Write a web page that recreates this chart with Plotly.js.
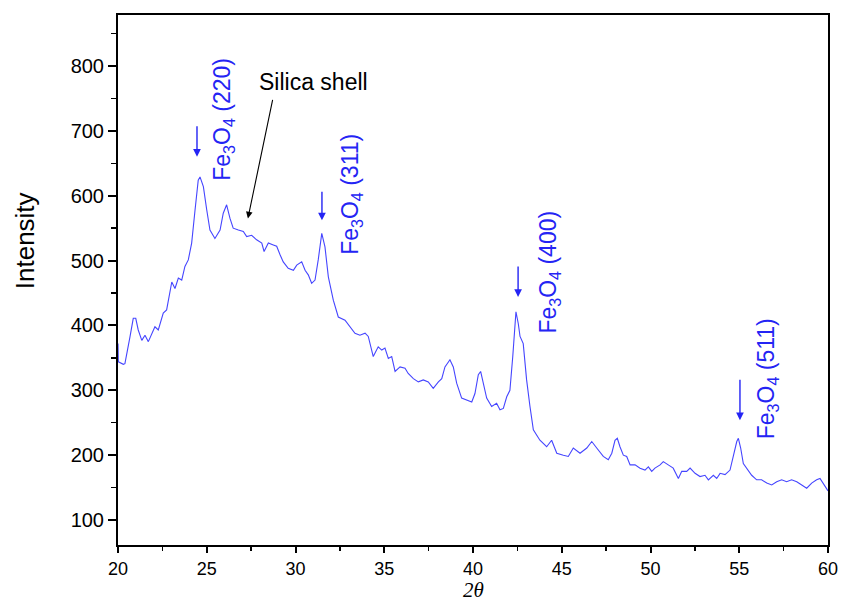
<!DOCTYPE html>
<html>
<head>
<meta charset="utf-8">
<script src="https://cdn.plot.ly/plotly-3.0.1.min.js"></script>
<style>html,body{margin:0;padding:0;background:#fff;}#chart{width:843px;height:603px;}</style>
</head>
<body>
<div id="chart"></div>
<script>
const twoTheta = [20.0,20.02,20.30,20.39,20.68,20.86,21.00,21.14,21.34,21.52,21.71,21.90,22.08,22.27,22.55,22.74,22.83,23.03,23.21,23.40,23.59,23.77,23.96,24.15,24.34,24.52,24.62,24.81,25.00,25.18,25.46,25.75,25.93,26.12,26.31,26.49,26.78,27.06,
27.25,27.53,27.81,28.10,28.23,28.47,28.75,28.94,29.13,29.31,29.59,29.88,30.07,30.35,30.54,30.72,30.91,31.10,31.28,31.48,31.66,31.85,32.13,32.41,32.79,33.07,33.35,33.63,33.92,34.10,
34.38,34.66,34.86,35.04,35.23,35.42,35.61,35.89,36.17,36.35,36.64,36.92,37.20,37.48,37.76,38.05,38.24,38.42,38.70,38.89,39.08,39.36,39.65,39.93,40.11,40.30,40.43,40.58,40.77,41.05,41.33,41.52,41.71,41.90,42.08,42.24,42.42,42.55,42.65,42.83,43.02,43.21,43.40,43.77,44.15,44.43,44.72,45.09,45.37,45.65,46.03,46.41,46.69,46.97,47.34,47.62,47.82,48.00,48.13,48.28,48.47,48.66,48.85,49.13,49.41,49.69,49.88,50.07,50.25,50.54,50.72,51.00,51.28,51.57,51.76,52.04,52.23,52.51,52.79,53.07,53.26,53.54,53.73,53.92,54.20,54.48,54.66,54.86,54.95,55.08,55.23,55.42,55.70,55.98,56.26,56.55,56.83,57.11,57.39,57.67,57.95,58.24,58.52,58.80,59.08,59.36,59.55,59.71,59.90,60.0];
const intensity = [372,344,340,341,383,411,411,393,377,385,375,388,398,393,419,424,439,467,457,473,470,491,501,527,578,624,629,614,578,547,534,547,573,586,565,550,547,545,
537,539,532,527,514,527,524,522,509,498,488,485,493,498,485,478,465,470,501,542,521,475,439,413,408,398,388,385,388,383,
352,367,362,365,349,352,329,336,334,326,318,313,316,313,303,313,318,336,347,336,311,288,285,282,295,324,329,311,288,275,280,270,272,290,300,352,421,403,383,372,316,275,239,223,213,223,203,200,198,211,203,211,221,211,198,193,203,223,226,213,200,198,185,185,180,177,182,175,180,185,190,185,180,164,175,175,180,172,167,169,162,169,164,172,170,177,198,221,226,211,187,180,169,162,162,157,154,159,162,159,162,159,154,149,157,162,164,157,149,145];

const peakLabels = ['Fe<sub>3</sub>O<sub>4</sub> (220)','Fe<sub>3</sub>O<sub>4</sub> (311)','Fe<sub>3</sub>O<sub>4</sub> (400)','Fe<sub>3</sub>O<sub>4</sub> (511)'];
const labelX = [25.95, 33.15, 44.3, 56.6];
const labelY = [718, 602, 482, 318];
const arrowX = [24.45, 31.49, 42.54, 55.04];
const arrowTipY = [660, 562, 444, 254];
const arrowLen = [32, 30, 32, 42];

const blue = '#2424f4';
const annotations = [];
for (let i = 0; i < peakLabels.length; i++) {
  annotations.push({x: labelX[i], y: labelY[i], xref:'x', yref:'y', text: peakLabels[i], showarrow:false, textangle:-90,
    xanchor:'center', yanchor:'middle',
    font:{family:'Liberation Sans, Arial, sans-serif', size:23, color:blue}});
  annotations.push({x: arrowX[i], y: arrowTipY[i], xref:'x', yref:'y', text:'', showarrow:true, ax:0, ay:-arrowLen[i],
    arrowhead:2, arrowsize:1.1, arrowwidth:1.4, arrowcolor:blue});
}
annotations.push({x: 31.0, y: 775, xref:'x', yref:'y', text:'Silica shell', showarrow:false,
  xanchor:'center', yanchor:'middle',
  font:{family:'Liberation Sans, Arial, sans-serif', size:23, color:'#000'}});
annotations.push({x: 27.32, y: 565, xref:'x', yref:'y', text:'', showarrow:true, ax:25, ay:-120,
  arrowhead:2, arrowsize:1.2, arrowwidth:1.1, arrowcolor:'#000'});
annotations.push({x: -0.131, y: 0.575, xref:'paper', yref:'paper', text:'Intensity', showarrow:false, textangle:-90,
  xanchor:'center', yanchor:'middle',
  font:{family:'Liberation Sans, Arial, sans-serif', size:26, color:'#000'}});
annotations.push({x: 0.5, y: -0.1085, xref:'paper', yref:'paper', text:'<i>2θ</i>', showarrow:false,
  xanchor:'center', yanchor:'bottom', borderpad:0,
  font:{family:'Liberation Serif, Times New Roman, serif', size:21, color:'#000'}});

const trace = {x: twoTheta, y: intensity, type:'scatter', mode:'lines', line:{color:'#4545ff', width:1.1}, hoverinfo:'skip'};

const layout = {
  width:843, height:603,
  margin:{l:118, r:15, t:15, b:58},
  paper_bgcolor:'#fff', plot_bgcolor:'#fff',
  showlegend:false,
  font:{family:'Liberation Sans, Arial, sans-serif', color:'#000'},
  xaxis:{range:[20,60], dtick:5, tick0:20, ticks:'outside', ticklen:6, tickwidth:2, tickcolor:'#000',
    showline:true, linewidth:2, linecolor:'#000', mirror:true, showgrid:false, zeroline:false,
    minor:{ticks:'outside', ticklen:4, tickwidth:1.5, tickcolor:'#000', dtick:2.5, showgrid:false},
    tickfont:{size:18}},
  yaxis:{range:[61.5,878.6], dtick:100, tick0:0, ticks:'outside', ticklen:8, tickwidth:2, tickcolor:'#000',
    showline:true, linewidth:2, linecolor:'#000', mirror:true, showgrid:false, zeroline:false,
    minor:{ticks:'outside', ticklen:5, tickwidth:1.5, tickcolor:'#000', dtick:50, showgrid:false},
    tickfont:{size:20}},
  annotations: annotations
};
Plotly.newPlot('chart', [trace], layout, {displayModeBar:false, staticPlot:true});
</script>
</body>
</html>
